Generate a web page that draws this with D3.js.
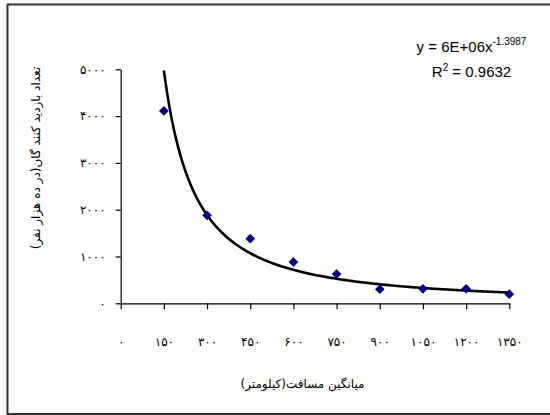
<!DOCTYPE html>
<html><head><meta charset="utf-8">
<script src="https://cdn.jsdelivr.net/npm/d3@7"></script>
<style>body{margin:0;background:#fff;} svg{display:block;}</style>
</head><body>
<svg id="chart" width="550" height="415"></svg>
<script>
const distances = [150, 300, 450, 600, 750, 900, 1050, 1200, 1350];
const visitors = [4110, 1880, 1380, 880, 625, 300, 310, 310, 195];
const xTicks = [0, 150, 300, 450, 600, 750, 900, 1050, 1200, 1350];
const yTicks = [0, 1000, 2000, 3000, 4000, 5000];
const trendCoef = 5.5e6;   // shown rounded as 6E+06
const trendExp = -1.3987;
const eqText = "y = 6E+06x";
const eqSup = "-1.3987";
const r2Text = " = 0.9632";
const xTitle = "میانگین مسافت(کیلومتر)";
const yTitle = "تعداد بازدید کنند گان(در ده هزار نفر)";

const fa = n => String(n).replace(/\d/g, d => "۰۱۲۳۴۵۶۷۸۹"[d]);

const svg = d3.select("#chart");
svg.append("rect").attr("x", 7.5).attr("y", 4.5).attr("width", 600).attr("height", 409.5)
  .attr("fill", "none").attr("stroke", "#333").attr("stroke-width", 2);

const x = d3.scaleLinear().domain([0, 1350]).range([120.7, 509.3]);
const y = d3.scaleLinear().domain([0, 5000]).range([303.3, 69.3]);

const xAxis = svg.append("g").attr("transform", `translate(0,${y(0)})`)
  .call(d3.axisBottom(x).tickValues(xTicks).tickSize(6).tickSizeOuter(0).tickPadding(28).tickFormat(fa));
const yAxis = svg.append("g").attr("transform", `translate(${x(0)},0)`)
  .call(d3.axisLeft(y).tickValues(yTicks).tickSize(5).tickSizeOuter(0).tickPadding(10).tickFormat(fa));
[xAxis, yAxis].forEach(g => {
  g.select(".domain").attr("stroke", "#000").attr("stroke-width", 1.2);
  g.selectAll(".tick line").attr("stroke", "#000").attr("stroke-width", 1.2);
  g.selectAll(".tick text").attr("fill", "#000").style("font-family", "DejaVu Sans, sans-serif").style("font-size", "12px");
});

svg.append("clipPath").attr("id", "clip").append("rect")
  .attr("x", x(0)).attr("y", y(5000)).attr("width", x(1350) - x(0) + 10).attr("height", y(0) - y(5000));

const curveX = d3.range(distances[0], distances[distances.length - 1] + 1, 5);
const line = d3.line().x(d => x(d)).y(d => y(trendCoef * Math.pow(d, trendExp)));
svg.append("path").datum(curveX).attr("clip-path", "url(#clip)")
  .attr("d", line).attr("fill", "none").attr("stroke", "#000").attr("stroke-width", 2.6);

const diamond = d3.symbol().type(d3.symbolDiamond2).size(60);
svg.append("g").selectAll("path").data(distances).join("path")
  .attr("transform", (d, i) => `translate(${x(d)},${y(visitors[i])})`)
  .attr("d", diamond).attr("fill", "#000080");

const eq = svg.append("text").attr("x", 471.5).attr("y", 51.5).attr("text-anchor", "middle")
  .style("font-family", "Liberation Sans, Arial, sans-serif").style("font-size", "15px").attr("fill", "#000");
eq.append("tspan").text(eqText);
eq.append("tspan").attr("dy", -7).style("font-size", "10px").text(eqSup);
const r2 = svg.append("text").attr("x", 471.5).attr("y", 76.5).attr("text-anchor", "middle")
  .style("font-family", "Liberation Sans, Arial, sans-serif").style("font-size", "15px").attr("fill", "#000");
r2.append("tspan").text("R");
r2.append("tspan").attr("dy", -6).style("font-size", "10px").text("2");
r2.append("tspan").attr("dy", 6).text(r2Text);

svg.append("text").attr("x", 302.5).attr("y", 388).attr("text-anchor", "middle")
  .attr("direction", "rtl").style("font-family", "DejaVu Sans, sans-serif").style("font-size", "12px").text(xTitle);
svg.append("text").attr("transform", "translate(40,158) rotate(-90)").attr("text-anchor", "middle")
  .attr("direction", "rtl").style("font-family", "DejaVu Sans, sans-serif").style("font-size", "12px").text(yTitle);
</script>
</body></html>
